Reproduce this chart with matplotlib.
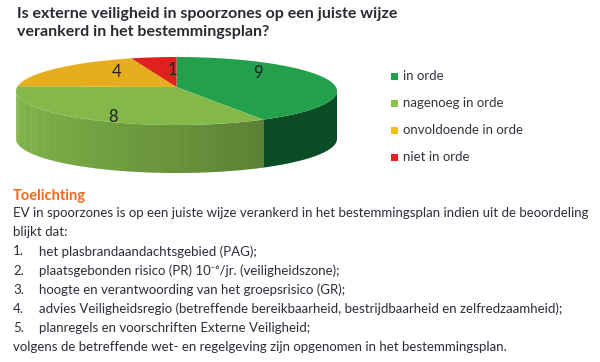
import numpy as np
import matplotlib
matplotlib.use('Agg')
import matplotlib.pyplot as plt
from matplotlib.patches import Polygon, Rectangle

plt.rcParams['font.family'] = ['Lato', 'DejaVu Sans']

# Data
labels = ['in orde', 'nagenoeg in orde', 'onvoldoende in orde', 'niet in orde']
values = [9, 8, 4, 1]
top_colors = ['#22a04b', '#84b84b', '#e6ae1e', '#e0201f']
side_colors = ['#0b4c25', '#82b64a', '#c8951a', '#b81a1a']
legend_colors = ['#1f9f4b', '#8cc04e', '#f6c100', '#e52222']
# nudges for the value labels (px), Excel puts them a bit off-centre
label_nudge = [(4, -13), (-19, 12), (17, -4), (11, 3)]

title = 'Is externe veiligheid in spoorzones op een juiste wijze\nverankerd in het bestemmingsplan?'
toelichting = 'Toelichting'
intro = ['EV in spoorzones is op een juiste wijze verankerd in het bestemmingsplan indien uit de beoordeling',
         'blijkt dat:']
items = ['het plasbrandaandachtsgebied (PAG);',
         'plaatsgebonden risico (PR) 10\u207b\u2076/jr. (veiligheidszone);',
         'hoogte en verantwoording van het groepsrisico (GR);',
         'advies Veiligheidsregio (betreffende bereikbaarheid, bestrijdbaarheid en zelfredzaamheid);',
         'planregels en voorschriften Externe Veiligheid;']
outro = 'volgens de betreffende wet- en regelgeving zijn opgenomen in het bestemmingsplan.'

# pie geometry (pixels)
cx, cy, a, b = 176.5, 91, 160.5, 34
hub_y = 87
depth = 48

fig = plt.figure(figsize=(6, 3.62), dpi=100)
ax = fig.add_axes([0, 0, 1, 1])
ax.set_xlim(0, 600)
ax.set_ylim(362, 0)
ax.axis('off')


def rim(t, dy=0):
    t = np.radians(t)
    return np.column_stack([cx + a * np.cos(t), cy - b * np.sin(t) + dy])


total = sum(values)
angles = [90]
for v in values:
    angles.append(angles[-1] - 360 * v / total)

# sides (front half only: 180..360 deg)
for i in range(len(values)):
    t_hi, t_lo = angles[i], angles[i + 1]
    lo, hi = t_lo % 360, (t_lo % 360) + (t_hi - t_lo)
    s0, s1 = max(lo, 180), min(hi, 360)
    if s1 <= s0:
        continue
    if i == 1:
        # shaded side, light at left, darker to the right
        edges = np.linspace(s0, s1, 40)
        base = np.array(matplotlib.colors.to_rgb(side_colors[i]))
        for k in range(len(edges) - 1):
            frac = (edges[k] - s0) / (s1 - s0)
            col = base * (1 - 0.3 * frac ** 1.3)
            ts = np.linspace(edges[k], edges[k + 1] + 0.3, 4)
            pts = np.vstack([rim(ts), rim(ts[::-1], depth)])
            ax.add_patch(Polygon(pts, closed=True, fc=col, ec='none'))
    else:
        ts = np.linspace(s0, s1, 60)
        pts = np.vstack([rim(ts), rim(ts[::-1], depth)])
        ax.add_patch(Polygon(pts, closed=True, fc=side_colors[i], ec='none'))

# tops and value labels
for i, v in enumerate(values):
    ts = np.linspace(angles[i], angles[i + 1], 80)
    pts = np.vstack([[cx, hub_y], rim(ts)])
    ax.add_patch(Polygon(pts, closed=True, fc=top_colors[i], ec='none'))
    x, y = pts[:, 0], pts[:, 1]
    xs, ys = np.append(x, x[0]), np.append(y, y[0])
    cr = xs[:-1] * ys[1:] - xs[1:] * ys[:-1]
    A = cr.sum() / 2
    gx = ((xs[:-1] + xs[1:]) * cr).sum() / (6 * A)
    gy = ((ys[:-1] + ys[1:]) * cr).sum() / (6 * A)
    dx, dy = label_nudge[i]
    ax.text(gx + dx, gy + dy, str(v), ha='center', va='center', fontsize=12, color='#222222')

# legend
for i, lab in enumerate(labels):
    ly = 76 + i * 27
    ax.add_patch(Rectangle((391, ly - 3.5), 7, 7, fc=legend_colors[i], ec='none'))
    ax.text(403, ly, lab, ha='left', va='center', fontsize=9.5, color='#33333d')

# title
ax.text(17, 23, title, ha='left', va='center', fontsize=11.5, fontweight='bold',
        color='#2a2a33', linespacing=1.35)

# explanation text
txt = '#2d2d3a'
fs = 9.5
ax.text(13, 196, toelichting, ha='left', va='center', fontsize=10.5, fontweight='bold', color='#f26a21')
y = 213
for line in intro:
    ax.text(13, y, line, ha='left', va='center', fontsize=fs, color=txt)
    y += 19.2
for n, line in enumerate(items, 1):
    ax.text(13, y, f'{n}.', ha='left', va='center', fontsize=fs, color=txt)
    ax.text(39, y, line, ha='left', va='center', fontsize=fs, color=txt)
    y += 19.2
ax.text(13, y, outro, ha='left', va='center', fontsize=fs, color=txt)

fig.savefig('out.png', dpi=100)
